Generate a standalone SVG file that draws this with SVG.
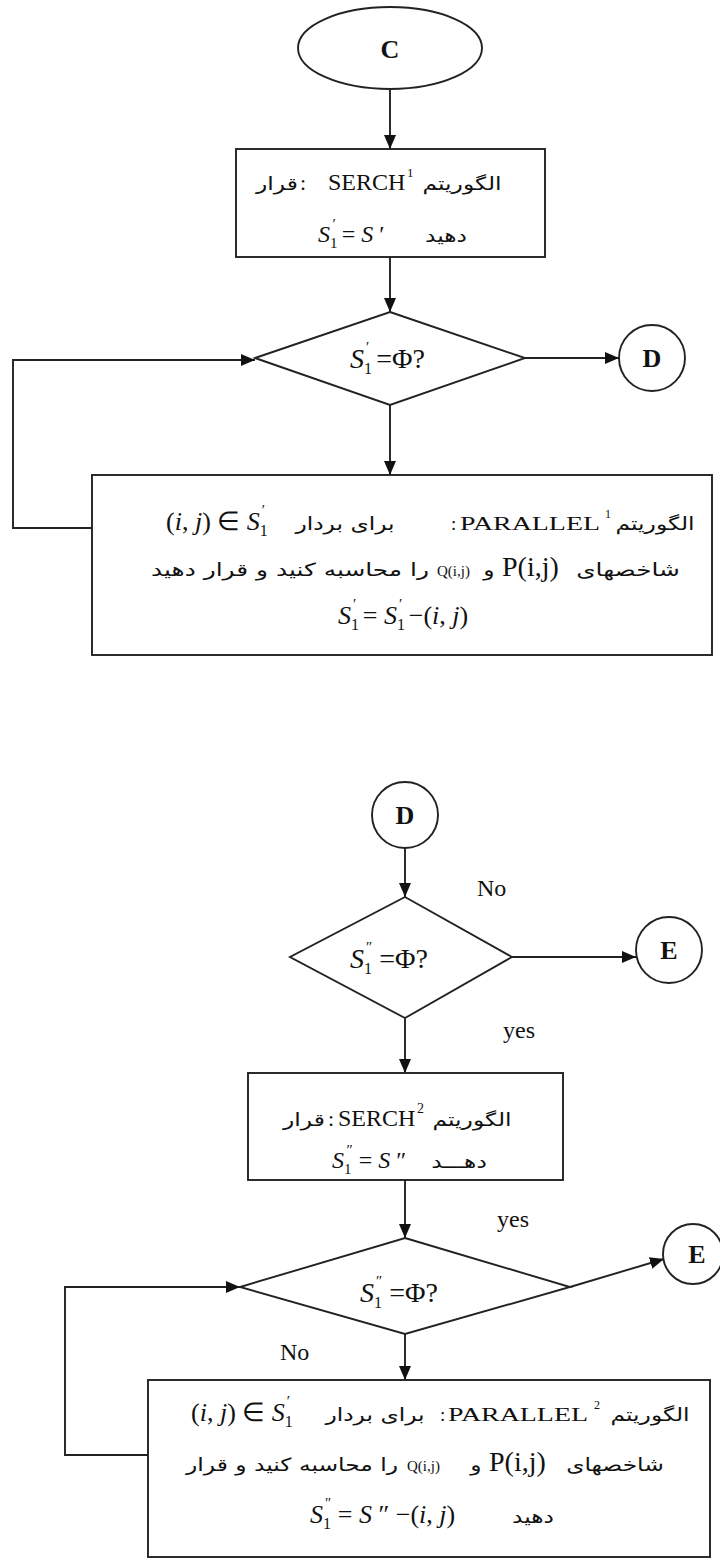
<svg xmlns="http://www.w3.org/2000/svg" width="720" height="1564" viewBox="0 0 720 1564">
<style>
.shape{fill:none;stroke:#222;stroke-width:1.9}
.ln{fill:none;stroke:#222;stroke-width:1.9}
.tm{font-family:"Liberation Serif","Times New Roman",serif;fill:#111}
.it{font-style:italic}
.fa{font-family:"DejaVu Sans","Noto Sans",sans-serif;font-size:18px;fill:#111;text-anchor:middle}
.lbl{font-family:"Liberation Serif","Times New Roman",serif;font-size:24px;fill:#111}
.cir{font-family:"Liberation Serif","Times New Roman",serif;font-weight:bold;font-size:26px;fill:#111;text-anchor:middle}
</style>
<defs>
<marker id="ah" viewBox="0 0 14 12" refX="14" refY="6" markerWidth="14" markerHeight="12" markerUnits="userSpaceOnUse" orient="auto"><path d="M0,0 L14,6 L0,12 z" fill="#111"/></marker>
</defs>
<rect width="720" height="1564" fill="#fff"/>

<g id="connectors">
<line class="ln" x1="390" y1="89" x2="390" y2="149" marker-end="url(#ah)"/>
<line class="ln" x1="390" y1="257" x2="390" y2="312" marker-end="url(#ah)"/>
<line class="ln" x1="525" y1="358" x2="619" y2="358" marker-end="url(#ah)"/>
<line class="ln" x1="390" y1="405" x2="390" y2="475" marker-end="url(#ah)"/>
<polyline class="ln" points="92,528 13,528 13,360 255,360" marker-end="url(#ah)"/>
<line class="ln" x1="405" y1="848" x2="405" y2="897" marker-end="url(#ah)"/>
<line class="ln" x1="512" y1="957" x2="636" y2="957" marker-end="url(#ah)"/>
<line class="ln" x1="405" y1="1018" x2="405" y2="1073" marker-end="url(#ah)"/>
<line class="ln" x1="405" y1="1180" x2="405" y2="1238" marker-end="url(#ah)"/>
<line class="ln" x1="570" y1="1287" x2="664" y2="1259" marker-end="url(#ah)"/>
<line class="ln" x1="405" y1="1334" x2="405" y2="1380" marker-end="url(#ah)"/>
<polyline class="ln" points="148,1455 65,1455 65,1287 240,1287" marker-end="url(#ah)"/>
<text class="lbl" x="477" y="896">No</text>
<text class="lbl" x="503" y="1038">yes</text>
<text class="lbl" x="497" y="1227">yes</text>
<text class="lbl" x="280" y="1360">No</text>
</g>

<g id="start-C">
<ellipse class="shape" cx="390" cy="48" rx="92" ry="41"/>
<text class="cir" x="390" y="58" font-size="30">C</text>
</g>

<g id="serch1">
<rect class="shape" x="236" y="149" width="309" height="108"/>
<text class="fa" transform="translate(277,190) scale(1.3,1)">قرار</text>
<text class="tm" x="300" y="190" font-size="22">:</text>
<text class="tm" x="328" y="190" font-size="24">SERCH</text>
<text class="tm" x="407" y="177" font-size="13">1</text>
<text class="fa" transform="translate(462,190) scale(1.3,1)">الگوریتم</text>
<text class="tm" x="318" y="242" font-size="24"><tspan class="it">S</tspan><tspan font-size="15" dy="6">1</tspan><tspan font-size="15" dx="-5" dy="-19">′</tspan><tspan dy="13"> = </tspan><tspan class="it">S</tspan><tspan> ′</tspan></text>
<text class="fa" transform="translate(446,242) scale(1.3,1)">دهید</text>
</g>

<g id="decision1">
<polygon class="shape" points="390,312 525,358 390,405 255,358"/>
<text class="tm" x="350" y="368" font-size="28"><tspan class="it">S</tspan><tspan font-size="16" dy="6">1</tspan><tspan font-size="15" dx="-6" dy="-22">′</tspan><tspan dy="16"> =Φ?</tspan></text>
</g>

<g id="connector-D1">
<circle class="shape" cx="652" cy="358" r="33"/>
<text class="cir" x="652" y="367">D</text>
</g>

<g id="parallel1">
<rect class="shape" x="92" y="475" width="620" height="180"/>
<text class="tm" x="166" y="530" font-size="26">(<tspan class="it">i</tspan>, <tspan class="it">j</tspan>) ∈ <tspan class="it">S</tspan><tspan font-size="16" dy="6">1</tspan><tspan font-size="15" dx="-6" dy="-21">′</tspan></text>
<text class="fa" transform="translate(345,530) scale(1.3,1)">برای بردار</text>
<text class="tm" x="451" y="530" font-size="19">:</text>
<text class="tm" transform="translate(460,530) scale(1.55,1)" font-size="18">PARALLEL</text>
<text class="tm" x="605" y="518" font-size="12">1</text>
<text class="fa" transform="translate(655,530) scale(1.3,1)">الگوریتم</text>
<text class="fa" transform="translate(290,576) scale(1.38,1)">را محاسبه کنید و قرار دهید</text>
<text class="tm" x="437" y="576" font-size="15">Q(i,j)</text>
<text class="fa" transform="translate(489,576) scale(1.3,1)">و</text>
<text class="tm" x="502" y="576" font-size="28">P(i,j)</text>
<text class="fa" transform="translate(628,576) scale(1.38,1)">شاخصهای</text>
<text class="tm" x="338" y="624" font-size="26"><tspan class="it">S</tspan><tspan font-size="16" dy="6">1</tspan><tspan font-size="15" dx="-6" dy="-21">′</tspan><tspan dy="15"> = </tspan><tspan class="it">S</tspan><tspan font-size="16" dy="6">1</tspan><tspan font-size="15" dx="-6" dy="-21">′</tspan><tspan dy="15"> −(</tspan><tspan class="it">i</tspan>, <tspan class="it">j</tspan>)</text>
</g>

<g id="connector-D2">
<circle class="shape" cx="405" cy="815" r="33"/>
<text class="cir" x="405" y="824">D</text>
</g>

<g id="decision2">
<polygon class="shape" points="405,897 512,957 405,1018 290,957"/>
<text class="tm" x="350" y="968" font-size="28"><tspan class="it">S</tspan><tspan font-size="16" dy="6">1</tspan><tspan font-size="15" dx="-6" dy="-22">″</tspan><tspan dy="16"> =Φ?</tspan></text>
</g>

<g id="connector-E1">
<circle class="shape" cx="669" cy="950" r="33"/>
<text class="cir" x="669" y="959">E</text>
</g>

<g id="serch2">
<rect class="shape" x="248" y="1073" width="315" height="107"/>
<text class="fa" transform="translate(304,1126) scale(1.3,1)">قرار</text>
<text class="tm" x="328" y="1126" font-size="22">:</text>
<text class="tm" x="338" y="1126" font-size="24">SERCH</text>
<text class="tm" x="417" y="1113" font-size="14">2</text>
<text class="fa" transform="translate(472,1126) scale(1.3,1)">الگوریتم</text>
<text class="tm" x="332" y="1168" font-size="24"><tspan class="it">S</tspan><tspan font-size="15" dy="6">1</tspan><tspan font-size="15" dx="-5" dy="-19">″</tspan><tspan dy="13"> = </tspan><tspan class="it">S</tspan><tspan> ″</tspan></text>
<text class="fa" transform="translate(459,1168) scale(1.3,1)">دهـــد</text>
</g>

<g id="decision3">
<polygon class="shape" points="405,1238 570,1287 405,1334 240,1287"/>
<text class="tm" x="360" y="1302" font-size="28"><tspan class="it">S</tspan><tspan font-size="16" dy="6">1</tspan><tspan font-size="15" dx="-6" dy="-22">″</tspan><tspan dy="16"> =Φ?</tspan></text>
</g>

<g id="connector-E2">
<circle class="shape" cx="693" cy="1254" r="30"/>
<text class="cir" x="697" y="1263">E</text>
</g>

<g id="parallel2">
<rect class="shape" x="148" y="1380" width="562" height="177"/>
<text class="tm" x="191" y="1421" font-size="26">(<tspan class="it">i</tspan>, <tspan class="it">j</tspan>) ∈ <tspan class="it">S</tspan><tspan font-size="16" dy="6">1</tspan><tspan font-size="15" dx="-6" dy="-21">′</tspan></text>
<text class="fa" transform="translate(375,1421) scale(1.3,1)">برای بردار</text>
<text class="tm" x="440" y="1421" font-size="19">:</text>
<text class="tm" transform="translate(448,1421) scale(1.55,1)" font-size="18">PARALLEL</text>
<text class="tm" x="594" y="1409" font-size="12">2</text>
<text class="fa" transform="translate(650,1421) scale(1.3,1)">الگوریتم</text>
<text class="fa" transform="translate(292,1471) scale(1.3,1)">را محاسبه کنید و قرار</text>
<text class="tm" x="407" y="1471" font-size="15">Q(i,j)</text>
<text class="fa" transform="translate(476,1471) scale(1.3,1)">و</text>
<text class="tm" x="489" y="1471" font-size="28">P(i,j)</text>
<text class="fa" transform="translate(615,1471) scale(1.3,1)">شاخصهای</text>
<text class="tm" x="310" y="1523" font-size="26"><tspan class="it">S</tspan><tspan font-size="16" dy="6">1</tspan><tspan font-size="15" dx="-6" dy="-21">″</tspan><tspan dy="15"> = </tspan><tspan class="it">S</tspan><tspan> ″ −(</tspan><tspan class="it">i</tspan>, <tspan class="it">j</tspan>)</text>
<text class="fa" transform="translate(533,1523) scale(1.3,1)">دهید</text>
</g>
</svg>
